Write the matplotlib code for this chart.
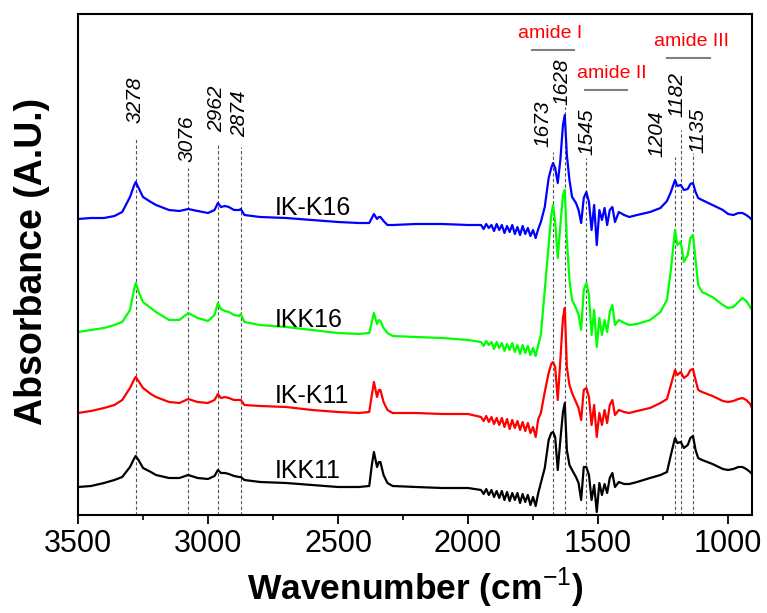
import matplotlib
matplotlib.use('Agg')
import matplotlib.pyplot as plt
from matplotlib.ticker import MultipleLocator

plt.rcParams['font.family'] = ['Liberation Sans', 'DejaVu Sans']
plt.rcParams['mathtext.fontset'] = 'custom'
plt.rcParams['mathtext.rm'] = 'Liberation Sans'

# FTIR spectra, stacked with offsets (arbitrary units)
wavenumber = [3500, 3450, 3400, 3360, 3330, 3300, 3285, 3278, 3265, 3250, 3220, 3200, 3150, 3110, 3076,
              3040, 3000, 2975, 2962, 2950, 2935, 2920, 2900, 2880, 2874, 2860, 2800, 2700, 2600, 2500,
              2420, 2380, 2370, 2362, 2350, 2343, 2337, 2325, 2310, 2290, 2200, 2100, 2000,
              1950, 1940, 1930, 1920, 1910, 1900, 1890, 1880, 1870, 1860, 1850, 1840, 1830, 1820, 1810,
              1800, 1790, 1780, 1770, 1760, 1750, 1740, 1730,
              1720, 1705, 1690, 1680, 1673, 1665, 1655, 1645, 1635, 1628, 1620, 1610, 1600, 1585, 1575,
              1565, 1555, 1545, 1535, 1525, 1515, 1505, 1495, 1485, 1475, 1465, 1455, 1445, 1435, 1420,
              1400, 1380, 1350, 1300, 1260, 1235, 1220, 1204, 1195, 1182, 1170, 1155, 1145, 1135, 1125,
              1115, 1100, 1060, 1020, 1000, 980, 960, 945, 930, 915, 908]

ik_k16 = [296, 297, 297, 299, 303, 318, 329, 333, 326, 318, 313, 310, 305, 304, 306,
          304, 302, 305, 312, 308, 309, 308, 305, 305, 306, 300, 298, 297, 295, 293,
          292, 292, 297, 301, 296, 298, 298, 294, 290, 290, 291, 291, 290,
          290, 286, 291, 287, 290, 284, 291, 285, 290, 282, 289, 283, 290, 281, 288,
          280, 289, 281, 287, 279, 285, 277, 286,
          293, 308, 337, 347, 352, 347, 332, 355, 390, 400, 360, 335, 318, 312, 305,
          292, 317, 323, 313, 285, 310, 270, 305, 295, 307, 290, 305, 308, 293, 303,
          300, 298, 300, 303, 307, 314, 323, 335, 329, 330, 325, 326, 331, 332, 323,
          317, 315, 310, 305, 301, 300, 302, 302, 300, 297, 295]

ikk16 = [183, 185, 187, 190, 193, 205, 225, 232, 222, 213, 207, 203, 195, 195, 202,
         197, 194, 200, 212, 206, 204, 203, 200, 199, 201, 193, 190, 188, 185, 182,
         181, 182, 193, 202, 191, 195, 194, 187, 182, 179, 178, 177, 175,
         173, 169, 174, 170, 173, 166, 173, 167, 172, 164, 171, 165, 172, 163, 170,
         161, 170, 162, 169, 160, 167, 159, 170,
         180, 225, 270, 300, 310, 293, 257, 290, 320, 325, 275, 235, 215, 207, 200,
         185, 225, 232, 220, 180, 205, 168, 197, 180, 195, 183, 203, 210, 190, 195,
         192, 190, 191, 195, 203, 215, 245, 285, 270, 273, 253, 260, 277, 280, 255,
         230, 223, 218, 210, 207, 208, 213, 217, 214, 208, 205]

ik_k11 = [102, 104, 107, 110, 115, 127, 135, 138, 133, 127, 121, 118, 113, 112, 116,
          113, 112, 115, 121, 117, 118, 117, 115, 115, 115, 110, 109, 108, 105, 103,
          102, 103, 120, 133, 118, 125, 125, 113, 105, 102, 102, 101, 101,
          98, 94, 99, 93, 98, 91, 97, 90, 97, 88, 96, 86, 95, 87, 94,
          85, 93, 84, 92, 82, 88, 78, 96,
          102, 123, 142, 151, 153, 148, 115, 155, 197, 207, 148, 130, 122, 113, 107,
          95, 125, 127, 118, 90, 110, 78, 102, 90, 105, 92, 110, 115, 100, 105,
          103, 102, 104, 107, 112, 116, 130, 145, 140, 143, 137, 140, 145, 146, 135,
          125, 123, 119, 114, 113, 114, 116, 117, 115, 111, 107]

ikk11 = [28, 29, 32, 35, 38, 48, 56, 59, 54, 47, 43, 40, 37, 37, 40,
         37, 36, 39, 45, 42, 42, 41, 39, 38, 38, 35, 33, 32, 30, 28,
         28, 29, 50, 63, 48, 53, 53, 40, 32, 29, 28, 27, 27,
         25, 21, 26, 20, 25, 18, 24, 17, 24, 15, 23, 14, 22, 15, 22,
         12, 21, 13, 20, 10, 18, 9, 22,
         32, 47, 75, 82, 83, 78, 45, 75, 103, 112, 65, 50, 45, 38, 32,
         15, 48, 48, 40, 15, 30, 3, 32, 20, 31, 22, 37, 42, 28, 33,
         31, 31, 33, 37, 40, 43, 60, 77, 72, 73, 67, 70, 77, 79, 65,
         57, 55, 51, 46, 45, 46, 48, 48, 46, 43, 41]

series = [('IKK11', ikk11, 'black'), ('IK-K11', ik_k11, 'red'),
          ('IKK16', ikk16, '#00ff00'), ('IK-K16', ik_k16, 'blue')]

# marked bands
peaks = [3278, 3076, 2962, 2874, 1673, 1628, 1545, 1204, 1182, 1135]
peak_line_top = [377, 347, 372, 368, 363, 408, 357, 358, 385, 362]
peak_label_x = [3281, 3081, 2965, 2877, 1712, 1638, 1542, 1273, 1196, 1115]
peak_label_y = [392, 353, 383, 378, 368, 410, 360, 358, 398, 362]

fig = plt.figure(figsize=(7.67, 6.13), dpi=100)
ax = fig.add_axes([78 / 767, 98 / 613, 674 / 767, 501 / 613])

for p, top in zip(peaks, peak_line_top):
    ax.plot([p, p], [0, top], ls=(0, (3, 2)), color='#555555', lw=0.8, zorder=1)
for p, lx, ly in zip(peaks, peak_label_x, peak_label_y):
    ax.text(lx, ly, str(p), rotation=90, ha='center', va='bottom',
            fontsize=15, style='italic')

for name, vals, col in series:
    ax.plot(wavenumber, vals, color=col, lw=1.6, zorder=2)

# sample names
ax.text(2742, 300, 'IK-K16', fontsize=18, va='baseline')
ax.text(2742, 188, 'IKK16', fontsize=18, va='baseline')
ax.text(2742, 112, 'IK-K11', fontsize=18, va='baseline')
ax.text(2742, 37, 'IKK11', fontsize=18, va='baseline')

# amide regions
amide = [('amide I', 1685, 482, 1754, 1592, 465),
         ('amide II', 1446, 441, 1550, 1388, 425),
         ('amide III', 1142, 473, 1235, 1069, 457)]
for lab, tx, ty, x0, x1, ly in amide:
    ax.text(tx, ty, lab, color='red', fontsize=14, ha='center', va='center')
    ax.plot([x0, x1], [ly, ly], color='gray', lw=1.5)

ax.set_xlim(3500, 908)
ax.set_ylim(0, 501)
ax.set_yticks([])
ax.xaxis.set_major_locator(MultipleLocator(500))
ax.xaxis.set_minor_locator(MultipleLocator(250))
ax.tick_params(axis='x', which='major', direction='out', length=6.5, width=1.3, labelsize=22, pad=3.5)
ax.tick_params(axis='x', which='minor', direction='out', length=3.6, width=1.2)
for s in ax.spines.values():
    s.set_linewidth(1.5)

ax.set_xlabel('Wavenumber (cm$^{-1}$)', fontsize=25.5, fontweight='bold', labelpad=5)
ax.set_ylabel('Absorbance (A.U.)', fontsize=27, fontweight='bold')
ax.yaxis.set_label_coords(-0.042, 0.506)

fig.savefig('out.png', dpi=100)
